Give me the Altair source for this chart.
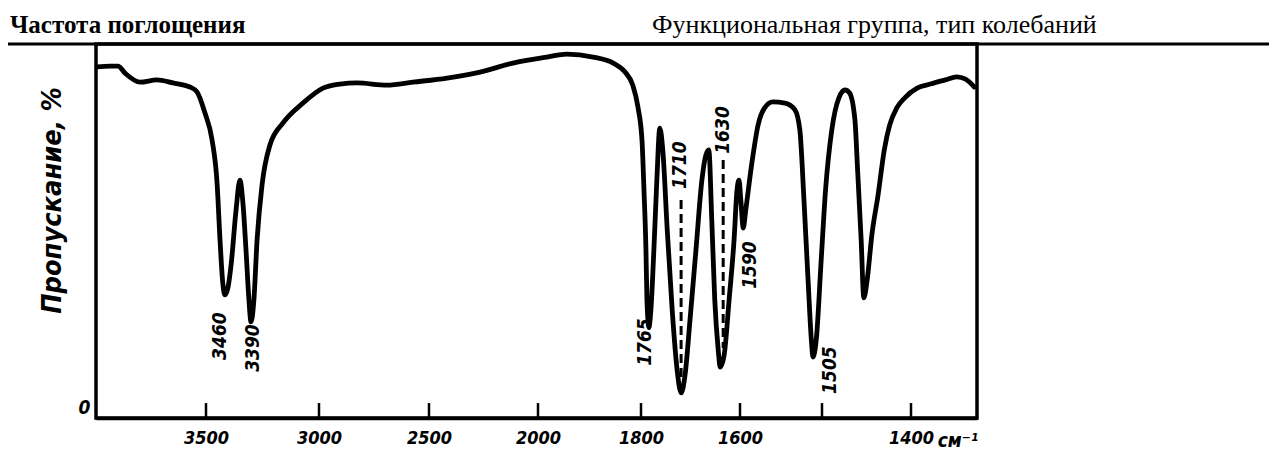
import altair as alt
import pandas as pd

# --- spectrum (wavenumber, cm-1 ; transmission, %) ---
wavenumber = [3995, 3936, 3900, 3868, 3800, 3723, 3650, 3573, 3541, 3505,
              3473, 3451, 3438, 3425, 3416, 3403, 3389, 3367, 3350, 3336,
              3323, 3310, 3301, 3288, 3274, 3252, 3217, 3159, 3071, 2982,
              2905, 2827, 2691, 2573, 2417, 2266, 2115, 1983, 1944, 1893,
              1854, 1831, 1816, 1806, 1798, 1794, 1790, 1788, 1784, 1780,
              1774, 1768, 1762, 1756, 1747, 1737, 1727, 1719, 1711, 1701,
              1689, 1677, 1669, 1663, 1657, 1651, 1644, 1640, 1632, 1622,
              1612, 1606, 1602, 1599, 1596, 1593, 1585, 1578, 1570, 1560,
              1545, 1533, 1527, 1522, 1517, 1513, 1511, 1507, 1501, 1496,
              1489, 1481, 1474, 1469, 1463, 1460, 1456, 1453, 1449, 1444,
              1437, 1430, 1424, 1416, 1407, 1393, 1378, 1361, 1348, 1338,
              1328]
transmission = [93.9, 94.1, 94.1, 92.2, 89.8, 90.4, 89.6, 88.5, 87.2, 81.6,
                74.3, 62.8, 47.6, 35.6, 32.9, 34.8, 40.9, 55.6, 63.6, 57.0,
                44.9, 31.6, 25.7, 31.6, 47.6, 62.3, 73.0, 78.9, 84.2, 88.2,
                89.3, 89.6, 89.0, 89.8, 90.9, 92.5, 94.9, 96.5, 97.3, 96.5,
                94.9, 92.5, 89.0, 83.2, 74.3, 61.0, 44.9, 31.6, 24.3, 28.9,
                44.9, 63.6, 77.5, 71.7, 50.3, 28.9, 12.8, 6.7, 11.5, 26.2,
                44.9, 63.6, 70.3, 71.7, 52.9, 31.6, 18.2, 13.6, 16.8, 31.6,
                47.6, 61.0, 63.6, 58.3, 50.8, 55.6, 69.0, 78.3, 82.9, 84.5,
                84.2, 82.4, 77.0, 58.3, 36.9, 20.9, 16.3, 20.9, 42.2, 61.0,
                77.0, 85.6, 87.7, 86.9, 79.7, 66.3, 47.6, 32.1, 37.4, 48.9,
                59.6, 71.7, 78.3, 82.9, 85.6, 88.2, 89.3, 90.4, 91.2, 90.6,
                88.5]

# --- peak annotations ---
peak_labels = ["3460", "3390", "1765", "1710", "1630", "1590", "1505"]
peak_label_x = [3438, 3292, 1792, 1721, 1634, 1588, 1491]
peak_label_y = [21.9, 18.7, 20.3, 67.6, 77.0, 40.9, 12.8]

# dashed guide lines under the 1710 and 1630 labels
dash_x = [1719, 1634]
dash_top = [58.3, 69.0]
dash_bottom = [10.7, 18.7]

# --- axis ---
tick_values = [3500, 3000, 2500, 2000, 1800, 1600, 1500, 1400]
label_values = [3500, 3000, 2500, 2000, 1800, 1600, 1400]
scale_stops = [4000, 3500, 3000, 2500, 2000, 1800, 1600, 1500, 1400, 1325]
scale_pixels = [0, 110, 223, 333, 442, 545, 644, 726, 815, 881]

W, H = 881, 374
ITAL = "Liberation Sans Narrow, DejaVu Sans Condensed, sans-serif"

spec = pd.DataFrame({"wn": wavenumber, "t": transmission,
                     "i": list(range(len(wavenumber)))})
peaks = pd.DataFrame({"label": peak_labels, "wn": peak_label_x, "t": peak_label_y})
dashes = pd.DataFrame({"wn": dash_x, "t": dash_top, "t2": dash_bottom})
ticks = pd.DataFrame({"wn": tick_values, "t": [0] * len(tick_values),
                      "t2": [4.0] * len(tick_values)})

xscale = alt.Scale(domain=scale_stops, range=scale_pixels, nice=False, zero=False)
yscale = alt.Scale(domain=[0, 100], nice=False, zero=False)

xenc = alt.X("wn:Q", scale=xscale,
             axis=alt.Axis(values=label_values, ticks=False, grid=False,
                           title=None, domainColor="black", domainWidth=3.5,
                           labelFont=ITAL, labelFontStyle="italic",
                           labelFontWeight="bold", labelFontSize=18,
                           labelColor="black", labelPadding=11, format="d"))
yenc = alt.Y("t:Q", scale=yscale,
             axis=alt.Axis(values=[0], ticks=False, grid=False, domain=False,
                           title="Пропускание, %", titleFont=ITAL,
                           titleFontStyle="italic", titleFontWeight="bold",
                           titleFontSize=27, titleColor="black",
                           titleAngle=270, titleX=-44, titleY=156,
                           titleAlign="center", titleBaseline="middle",
                           labelFont=ITAL, labelFontStyle="italic",
                           labelFontWeight="bold", labelFontSize=19,
                           labelColor="black", labelPadding=6, labelOffset=-11))

line = alt.Chart(spec).mark_line(color="black", strokeWidth=4.8,
                                 interpolate="monotone", strokeJoin="round",
                                 strokeCap="round").encode(
    x=xenc, y=yenc, order="i:Q")

tick_marks = alt.Chart(ticks).mark_rule(color="black", strokeWidth=2.5).encode(
    x=alt.X("wn:Q", scale=xscale), y=alt.Y("t:Q", scale=yscale), y2="t2:Q")

dash_marks = alt.Chart(dashes).mark_rule(color="black", strokeWidth=3,
                                         strokeDash=[9, 5]).encode(
    x=alt.X("wn:Q", scale=xscale), y=alt.Y("t:Q", scale=yscale), y2="t2:Q")

labels = alt.Chart(peaks).mark_text(angle=270, font=ITAL, fontStyle="italic",
                                    fontWeight="bold", fontSize=19,
                                    color="black", align="center",
                                    baseline="middle").encode(
    x=alt.X("wn:Q", scale=xscale), y=alt.Y("t:Q", scale=yscale), text="label:N")

unit = alt.Chart(pd.DataFrame({"u": ["см⁻¹"]})).mark_text(
    font=ITAL, fontStyle="italic", fontWeight="bold", fontSize=19,
    color="black", align="center", baseline="middle").encode(
    x=alt.value(862), y=alt.value(397), text="u:N")

header_left = alt.Chart(pd.DataFrame({"h": ["Частота поглощения"]})).mark_text(
    font="Liberation Serif", fontWeight="bold", fontSize=25, color="black",
    align="left", baseline="alphabetic").encode(
    x=alt.value(-86), y=alt.value(-11), text="h:N")
header_right = alt.Chart(pd.DataFrame({"h": ["Функциональная группа, тип колебаний"]})).mark_text(
    font="Liberation Serif", fontSize=26, color="black",
    align="left", baseline="alphabetic").encode(
    x=alt.value(556), y=alt.value(-11), text="h:N")

sep = alt.Chart(pd.DataFrame({"k": [0]})).mark_rule(color="black", strokeWidth=3).encode(
    x=alt.value(-88), x2=alt.value(1173), y=alt.value(0))

chart = alt.layer(line, tick_marks, dash_marks, labels, unit,
                  header_left, header_right, sep).properties(
    width=W, height=H,
    autosize=alt.AutoSizeParams(type="none"),
    padding={"left": 88, "top": 36, "right": 292, "bottom": 33},
    background="white",
).configure_view(stroke="black", strokeWidth=3.5)

chart.save("out.html", embed_options={"renderer": "svg", "actions": False})
